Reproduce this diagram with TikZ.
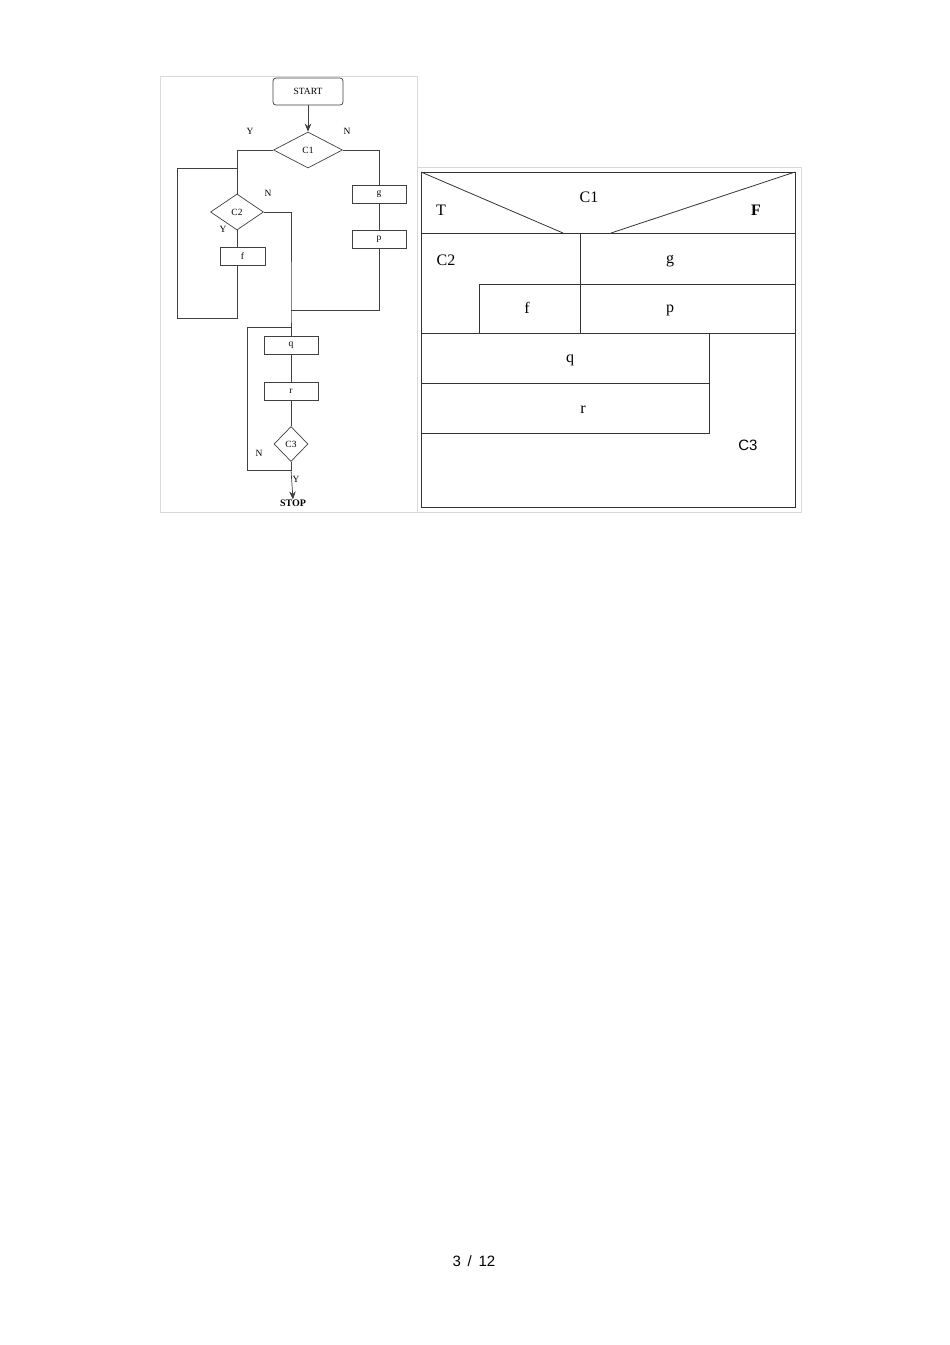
\documentclass[tikz,border=0pt]{standalone}
\usepackage{fontspec}
\setmainfont{Liberation Serif}
\setsansfont{Liberation Sans}
\usetikzlibrary{arrows,arrows.meta,positioning,shapes.geometric}

\begin{document}
\begin{tikzpicture}[x=1pt,y=-1pt,>={Stealth[length=8pt,width=6.5pt]},on grid]
\tikzstyle{ln} = [draw=black!75,line width=0.7pt]
\tikzstyle{blk} = [rectangle,ln,minimum width=54pt,minimum height=18pt,inner sep=0pt,font=\fontsize{9.5}{9.5}\selectfont]
\tikzstyle{dec} = [diamond,ln,minimum width=69pt,minimum height=36pt,inner sep=0pt,font=\fontsize{9.5}{9.5}\selectfont]
\tikzstyle{lbl} = [inner sep=0pt,font=\fontsize{9.5}{9.5}\selectfont]
\tikzstyle{ns} = [inner sep=0pt,font=\fontsize{16}{16}\selectfont]
    \useasboundingbox[fill=white] (0,0) rectangle (950,1345);
    % frames
    \draw[black!15,line width=0.8pt] (160,76) rectangle (417,512);
    \draw[black!15,line width=0.8pt] (417,167) rectangle (801,512);

    % flowchart
    \node[blk,rounded corners=3pt,minimum width=70pt,minimum height=27pt] (start) at (308,91.5) {START};
    \node[dec] (c1) at (308,150) {C1};
    \node[blk] (g) at (379,194.5) {g};
    \node[blk] (p) [below=44.5pt of g] {p};
    \node[dec,minimum width=53pt] (c2) at (237,212) {C2};
    \node[blk,minimum width=45pt] (f) at (242.5,256) {f};
    \node[blk] (q) at (291,345) {q};
    \node[blk] (r) [below=46pt of q] {r};
    \node[dec,minimum width=34pt,minimum height=35pt] (c3) at (291,444) {C3};
    \node[lbl,font=\fontsize{10}{10}\selectfont\bfseries] (stop) at (293,503) {STOP};

    \coordinate (j1) at (291,310);
    \coordinate (j3) at (291,327);
    \coordinate (j4) at (291,470);
    \coordinate (fl) at (177,318);
    \coordinate (fr) at (237,168);
    \coordinate (ql) at (247,327);

    \draw[ln,->] (start) -- (c1);
    \draw[ln] (c1.west) -| (c2.north);
    \draw[ln] (c1.east) -| (g.north);
    \draw[ln] (g) -- (p);
    \draw[ln] (p.south) |- (j1);
    \draw[ln] (c2.east) -| (j1) -- (q.north);
    \draw[ln] (c2.south) -- (c2.south |- f.north);
    \draw[ln] (c2.south |- f.south) |- (fl) |- (fr);
    \draw[ln] (q) -- (r);
    \draw[ln] (r) -- (c3);
    \draw[ln] (c3.south) -- (j4) -| (ql) -- (j3);
    \draw[ln,->] (j4) -- (stop.north);

    \node[lbl] (y1) at (250,131) {Y};
    \node[lbl] (n1) at (347,131) {N};
    \node[lbl] (n2) at (268,193) {N};
    \node[lbl] (y2) at (223,229) {Y};
    \node[lbl] (n3) at (259,453) {N};
    \node[lbl] (y3) at (296,479) {Y};

    % structure chart
    \draw[black!80,line width=0.8pt] (421,172) rectangle (795,507);
    \draw[black!80,line width=0.8pt] (421,172) -- (563,233);
    \draw[black!80,line width=0.8pt] (795,172) -- (611,233);
    \draw[black!80,line width=0.8pt] (421,233) -- (795,233);
    \draw[black!80,line width=0.8pt] (580,233) -- (580,333);
    \draw[black!80,line width=0.8pt] (479,333) -- (479,284) -- (795,284);
    \draw[black!80,line width=0.8pt] (421,333) -- (795,333);
    \draw[black!80,line width=0.8pt] (421,383) -- (709,383);
    \draw[black!80,line width=0.8pt] (421,433) -- (709,433) -- (709,333);

    \node[ns] (nc1) at (589,197) {C1};
    \node[ns] (nt) at (441,210) {T};
    \node[ns,font=\fontsize{16}{16}\selectfont\bfseries] (nf) at (756,210) {F};
    \node[ns] (nc2) at (446,260) {C2};
    \node[ns] (ng) at (670,261) {g};
    \node[ns] (nfx) at (527,308) {f};
    \node[ns] (np) at (670,310) {p};
    \node[ns] (nq) at (570,360) {q};
    \node[ns] (nr) at (583,410) {r};
    \node[ns,font=\fontsize{15}{15}\selectfont\sffamily] (nc3) at (748,445) {C3};

    \node[inner sep=0pt,font=\fontsize{15}{15}\selectfont\sffamily] (page) at (474,1261) {3 \,/\, 12};
\end{tikzpicture}
\end{document}
